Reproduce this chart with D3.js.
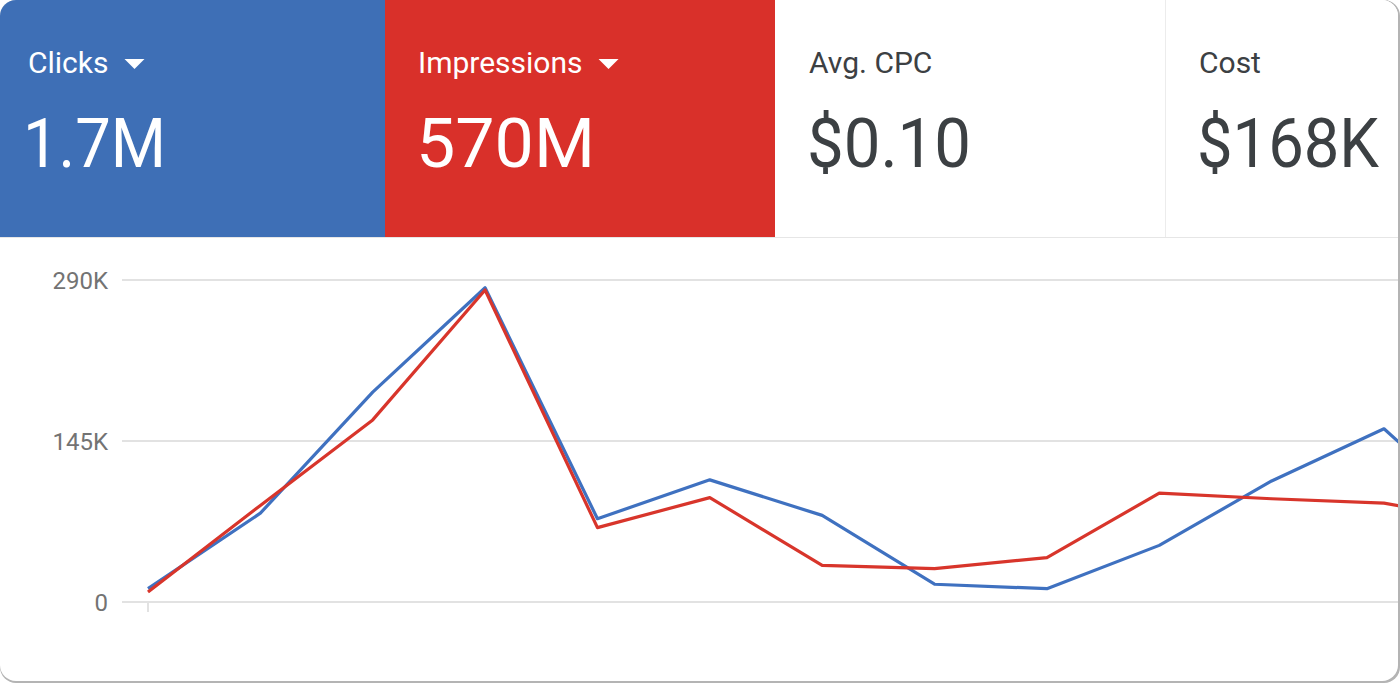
<!DOCTYPE html>
<html>
<head>
<meta charset="utf-8">
<script src="https://cdn.jsdelivr.net/npm/d3@7"></script>
<style>
  html, body { margin: 0; padding: 0; background: #ffffff; }
  svg { display: block; }
</style>
</head>
<body>
<svg id="chart" width="1400" height="683"></svg>
<script>
// ---- data ----
const tileLabels = ["Clicks", "Impressions", "Avg. CPC", "Cost"];
const tileValues = ["1.7M", "570M", "$0.10", "$168K"];
const tileDropdown = [true, true, false, false];
const periods = ["P1","P2","P3","P4","P5","P6","P7","P8","P9","P10","P11","P12","P13"];
const clicks =      [12000, 80000, 189000, 283000, 75000, 110000, 78000, 16000, 12000, 51000, 109000, 156000, 65000];
const impressions = [9000, 87000, 164000, 281000, 67000, 94000, 33000, 30000, 40000, 98000, 93000, 89000, 72000];
const yTicks = [0, 145000, 290000];
const yTickLabels = ["0", "145K", "290K"];

// ---- styling ----
const W = 1400, H = 683;
const BLUE = "#3e6fb6", RED = "#d9302a";
const LINE_BLUE = "#3f71c0", LINE_RED = "#d8352b";
const FONT = "Roboto, 'Noto Sans', sans-serif";

const svg = d3.select("#chart");
const defs = svg.append("defs");
defs.append("clipPath").attr("id", "cardClip")
  .append("rect").attr("x", 0).attr("y", 0).attr("width", 1398).attr("height", 681).attr("rx", 16);

// card shadow + card
svg.append("rect").attr("x", 0).attr("y", 0).attr("width", W).attr("height", H)
  .attr("rx", 16).attr("fill", "#b4b4b4");
svg.append("rect").attr("x", 0).attr("y", 0).attr("width", 1398).attr("height", 681)
  .attr("rx", 16).attr("fill", "#ffffff");

const card = svg.append("g").attr("clip-path", "url(#cardClip)");

// tiles
const tileX = d3.scaleOrdinal().domain(tileLabels).range([0, 385, 775, 1165]);
const tileW = [385, 390, 390, 235];
const tileFill = [BLUE, RED, "#ffffff", "#ffffff"];
const tileText = ["#ffffff", "#ffffff", "#3c4043", "#3c4043"];
const labelPad = [28, 33, 34, 34];
const valuePad = [23, 31, 32, 32];
const valueLen = [143, 179, 164, 182];

const tiles = card.selectAll("g.tile").data(tileLabels).join("g")
  .attr("class", "tile")
  .attr("transform", d => `translate(${tileX(d)},0)`);

tiles.append("rect").attr("x", 0).attr("y", 0)
  .attr("width", (d, i) => tileW[i]).attr("height", 237)
  .attr("fill", (d, i) => tileFill[i]);

tiles.append("text")
  .attr("x", (d, i) => labelPad[i]).attr("y", 73)
  .attr("font-family", FONT).attr("font-size", 30)
  .attr("fill", (d, i) => tileText[i])
  .text(d => d);

tiles.each(function(d, i) {
  if (!tileDropdown[i]) return;
  const t = d3.select(this).select("text").node();
  const bb = t.getBBox();
  const x0 = bb.x + bb.width + 16;
  d3.select(this).append("path")
    .attr("d", `M${x0},59 L${x0 + 20},59 L${x0 + 10},69 Z`)
    .attr("fill", "#ffffff");
});

tiles.append("text")
  .attr("x", (d, i) => valuePad[i]).attr("y", 167)
  .attr("font-family", FONT).attr("font-size", 69)
  .attr("textLength", (d, i) => valueLen[i])
  .attr("lengthAdjust", "spacingAndGlyphs")
  .attr("fill", (d, i) => tileText[i])
  .text((d, i) => tileValues[i]);

// divider between white tiles and separator
card.append("line").attr("x1", 1165.5).attr("x2", 1165.5).attr("y1", 0).attr("y2", 237)
  .attr("stroke", "#ececec").attr("stroke-width", 1);
card.append("line").attr("x1", 0).attr("x2", W).attr("y1", 237.5).attr("y2", 237.5)
  .attr("stroke", "#e6e6e6").attr("stroke-width", 1);

// chart scales
const y = d3.scaleLinear().domain([0, 290000]).range([602, 280]);
const x = d3.scaleLinear().domain([0, 11]).range([148, 1384]);

// grid lines
card.selectAll("line.grid").data(yTicks).join("line")
  .attr("class", "grid")
  .attr("x1", 122).attr("x2", W)
  .attr("y1", d => y(d)).attr("y2", d => y(d))
  .attr("stroke", "#e2e2e2").attr("stroke-width", 2);

// x tick
card.append("line").attr("x1", x(0)).attr("x2", x(0)).attr("y1", 603).attr("y2", 612)
  .attr("stroke", "#e2e2e2").attr("stroke-width", 2);

// y labels via axis
const yAxis = d3.axisLeft(y).tickValues(yTicks)
  .tickFormat((d, i) => yTickLabels[i]).tickSize(0).tickPadding(0);
const ax = card.append("g").attr("transform", "translate(108,0)").call(yAxis);
ax.select(".domain").remove();
ax.selectAll("text")
  .attr("font-family", FONT).attr("font-size", 24)
  .attr("fill", "#737373").attr("dy", "0.35em");

// lines
const line = d3.line().x((d, i) => x(i)).y(d => y(d));
card.append("path").datum(clicks)
  .attr("d", line).attr("fill", "none")
  .attr("stroke", LINE_BLUE).attr("stroke-width", 3.2).attr("stroke-linejoin", "round");
card.append("path").datum(impressions)
  .attr("d", line).attr("fill", "none")
  .attr("stroke", LINE_RED).attr("stroke-width", 3.2).attr("stroke-linejoin", "round");
</script>
</body>
</html>
